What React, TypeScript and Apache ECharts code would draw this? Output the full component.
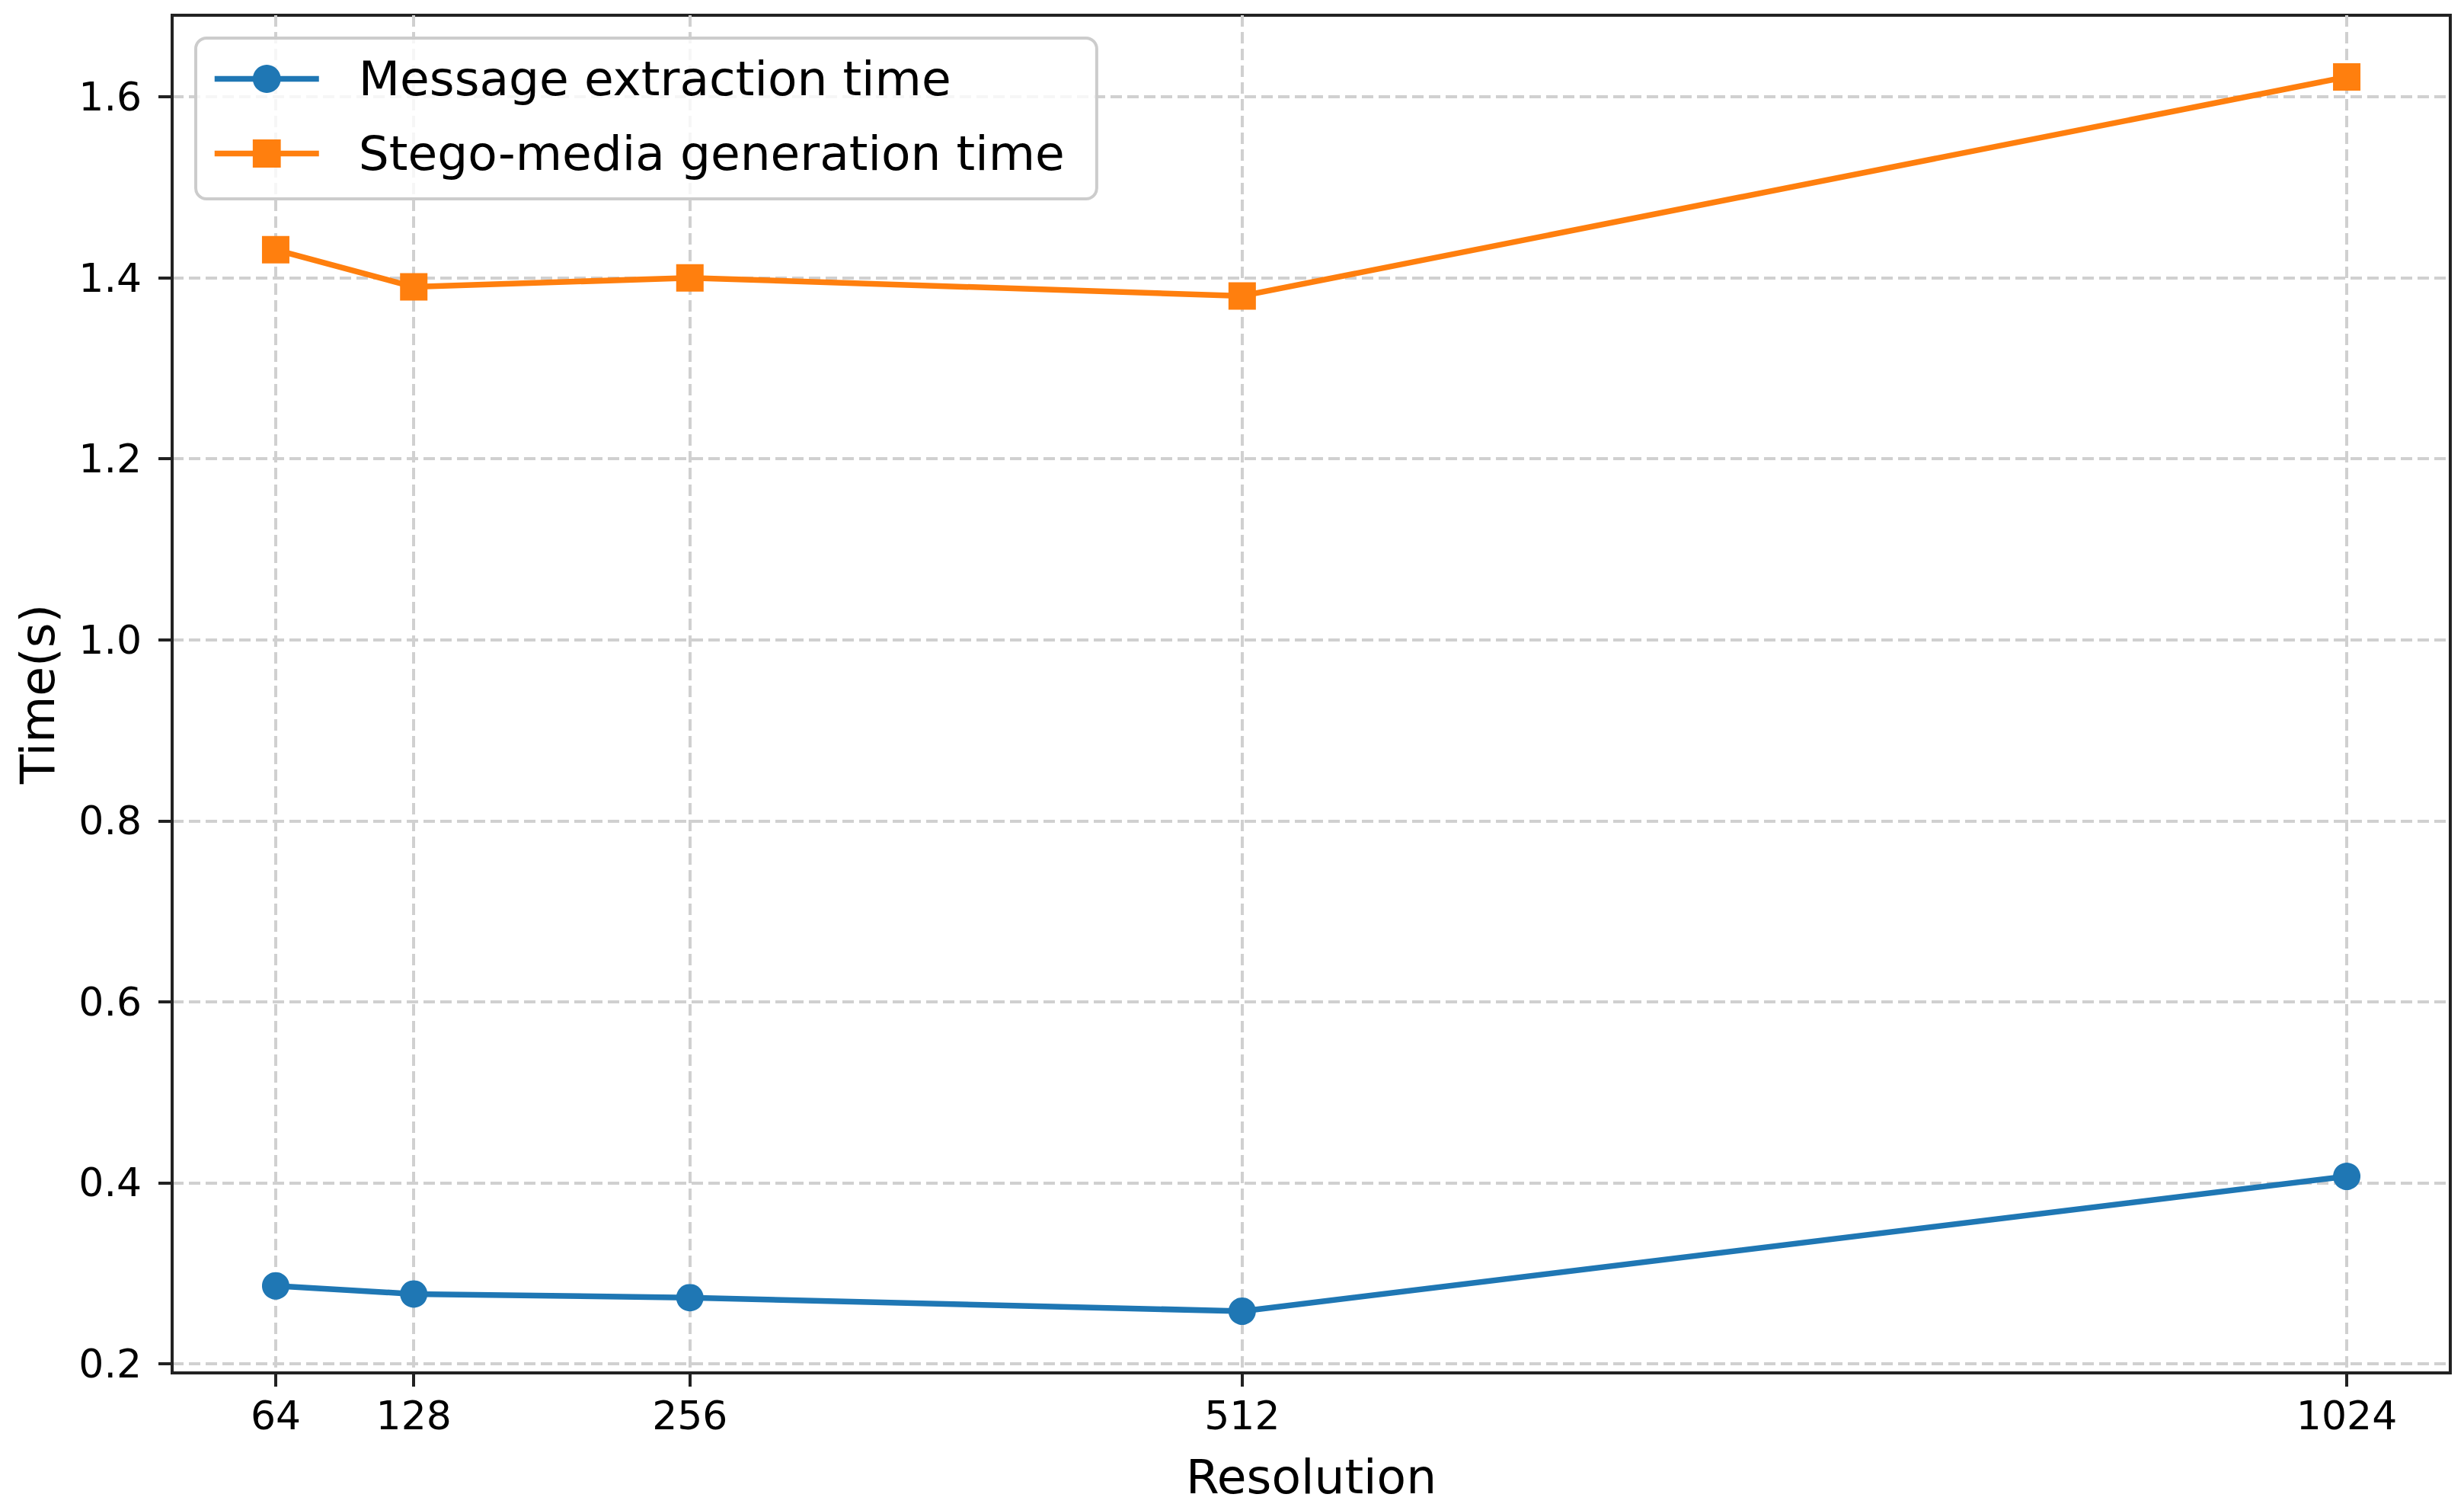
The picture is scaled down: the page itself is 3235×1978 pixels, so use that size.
import React, { useEffect, useRef } from "react";
import * as echarts from "echarts";

const resolutions = [64, 128, 256, 512, 1024];
const extractionTime = [0.286, 0.277, 0.273, 0.258, 0.407];
const generationTime = [1.431, 1.39, 1.4, 1.38, 1.622];
const xTicks = [64, 128, 256, 512, 1024];
const yTicks = [0.2, 0.4, 0.6, 0.8, 1.0, 1.2, 1.4, 1.6];
const seriesNames = ["Message extraction time", "Stego-media generation time"];

const FONT = "DejaVu Sans";

export default function App() {
  const ref = useRef<HTMLDivElement>(null);
  useEffect(() => {
    document.body.style.margin = "0";
    if (!ref.current) return;
    const chart = echarts.init(ref.current, null, { renderer: "svg" });

    const allY = extractionTime.concat(generationTime);
    const yMinD = Math.min(...allY);
    const yMaxD = Math.max(...allY);
    const yPad = (yMaxD - yMinD) * 0.05;
    const xMinD = Math.min(...resolutions);
    const xMaxD = Math.max(...resolutions);
    const xPad = (xMaxD - xMinD) * 0.05;

    const axisColor = "#222222";
    const gridLine = { show: true, lineStyle: { color: "#d0d0d0", width: 4, type: [15, 7] as any } };

    chart.setOption({
      animation: false,
      backgroundColor: "#ffffff",
      textStyle: { fontFamily: FONT },
      grid: {
        left: 226,
        right: 18,
        top: 20,
        bottom: 176,
        show: true,
        borderColor: axisColor,
        borderWidth: 4,
        backgroundColor: "transparent",
      },
      legend: {
        left: 257,
        top: 50,
        orient: "vertical",
        padding: [22, 42, 28, 21],
        itemWidth: 137,
        itemHeight: 46,
        itemGap: 35,
        backgroundColor: "rgba(255,255,255,0.8)",
        borderColor: "#cccccc",
        borderWidth: 4,
        borderRadius: 14,
        lineStyle: { width: 7.5 },
        textStyle: {
          fontFamily: FONT,
          fontSize: 63,
          color: "#000000",
          lineHeight: 46,
          padding: [0, 0, 0, 47],
        },
        data: seriesNames,
      },
      xAxis: {
        type: "value",
        min: xMinD - xPad,
        max: xMaxD + xPad,
        name: "Resolution",
        nameLocation: "middle",
        nameGap: 105,
        nameTextStyle: { fontFamily: FONT, fontSize: 63, color: "#000000" },
        axisLine: { show: true, onZero: false, lineStyle: { color: axisColor, width: 4 } },
        axisTick: {
          show: true,
          inside: false,
          length: 18,
          lineStyle: { color: axisColor, width: 4 },
          customValues: xTicks,
        },
        axisLabel: {
          show: true,
          margin: 30,
          fontFamily: FONT,
          fontSize: 52,
          color: "#000000",
          customValues: xTicks,
          formatter: (v: number) => String(v),
        },
        splitLine: gridLine,
      },
      yAxis: {
        type: "value",
        min: yMinD - yPad,
        max: yMaxD + yPad,
        name: "Time(s)",
        nameLocation: "middle",
        nameRotate: 90,
        nameGap: 145,
        nameTextStyle: { fontFamily: FONT, fontSize: 63, color: "#000000" },
        axisLine: { show: true, onZero: false, lineStyle: { color: axisColor, width: 4 } },
        axisTick: {
          show: true,
          inside: false,
          length: 18,
          lineStyle: { color: axisColor, width: 4 },
          customValues: yTicks,
        },
        axisLabel: {
          show: true,
          margin: 40,
          fontFamily: FONT,
          fontSize: 52,
          color: "#000000",
          customValues: yTicks,
          formatter: (v: number) => v.toFixed(1),
        },
        splitLine: gridLine,
      },
      series: [
        {
          name: seriesNames[0],
          type: "line",
          data: resolutions.map((r, i) => [r, extractionTime[i]]),
          symbol: "circle",
          symbolSize: 36,
          itemStyle: { color: "#1f77b4" },
          lineStyle: { color: "#1f77b4", width: 7.5 },
          z: 3,
        },
        {
          name: seriesNames[1],
          type: "line",
          data: resolutions.map((r, i) => [r, generationTime[i]]),
          symbol: "rect",
          symbolSize: 36,
          itemStyle: { color: "#ff7f0e" },
          lineStyle: { color: "#ff7f0e", width: 7.5 },
          z: 3,
        },
      ],
    });
    return () => chart.dispose();
  }, []);
  return <div ref={ref} style={{ width: 3235, height: 1978 }} />;
}
